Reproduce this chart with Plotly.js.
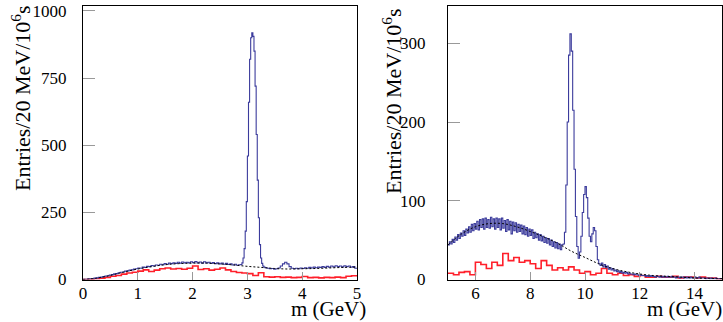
<!DOCTYPE html>
<html>
<head>
<meta charset="utf-8">
<script src="https://cdn.plot.ly/plotly-3.0.1.min.js"></script>
<style>html,body{margin:0;padding:0;background:#fff;}#chart{width:723px;height:322px;}</style>
</head>
<body>
<div id="chart"></div>
<script>
// ---------- DATA ----------
// Left panel, blue histogram: three segments of bins
const LEFT_BLUE_A_START = 0.00, LEFT_BLUE_A_WIDTH = 0.04;
const LEFT_BLUE_A = [1,1,2,3,3,5,6,8,9,11,13,14,17,18,21,22,25,27,28,31,32,35,36,39,40,
  43,42,46,45,49,48,52,50,54,53,57,55,59,57,61,59,62,60,64,61,65,62,64,62,66,
  63,67,62,65,61,66,62,64,60,63,59,62,58,61,57,60,56,58,54,57,53,55];
const LEFT_BLUE_B_START = 2.88, LEFT_BLUE_B_WIDTH = 0.02;
const LEFT_BLUE_B = [56,62,80,115,180,290,460,660,820,900,918,905,850,720,540,370,230,130,80,60,50,46];
const LEFT_BLUE_C_START = 3.32, LEFT_BLUE_C_WIDTH = 0.04;
const LEFT_BLUE_C = [44,42,40,41,38,40,43,50,58,64,58,48,42,40,42,40,43,41,44,42,
  45,43,46,44,46,45,48,45,49,46,50,47,51,48,50,47,51,48,50,46,48,42];
// Left panel, red histogram
const LEFT_RED_START = 0.0, LEFT_RED_WIDTH = 0.1;
const LEFT_RED = [0,1,3,5,8,12,15,20,24,27, 31,36,30,35,40,43,39,41,38,42,
  50,37,40,35,38,43,36,30,26,24, 22,15,25,10,9,10,8,9,7,8, 11,7,8,6,8,7,9,7,12,14];
// Left panel, background fit (dashed)
const LEFT_FIT_X = [0,0.25,0.5,0.75,1,1.25,1.5,1.75,2,2.25,2.5,2.75,3,3.25,3.5,3.75,4,4.25,4.5,4.75,5];
const LEFT_FIT_Y = [0,5,15,28,39,48,55,59,61,61,58,54,49,45,41,39,40,41,43,45,46];

// Right panel, blue histogram
const RIGHT_BLUE_START = 5.0, RIGHT_BLUE_WIDTH = 0.05;
const RIGHT_BLUE = [
  44,48,45,51,47,54,50,57,52,59,55,62,56,64,59,67,60,70,62,71,
  64,74,63,76,66,77,64,78,66,76,65,79,67,77,64,78,66,77,63,78,
  65,75,61,76,63,74,58,73,62,72,60,70,61,69,58,68,57,66,55,64,
  56,63,52,60,53,58,50,57,49,55,47,53,46,52,44,50,42,48,40,47,
  39,45,38,44,45,60,120,200,285,312,290,215,140,80,42,27,35,55,85,108,
  118,104,78,55,48,58,66,62,42,25,20,18,21,16,19,15,17,13,15,12,
  14,11,12,10,11,9,10,8,9,8,9,7,8,7,7,6,7,6,6,5,
  6,5,5,5,4,5,4,4,5,4,4,3,4,4,3,4,3,4,3,3,
  4,3,3,4,3,3,2,3,3,2,3,3,2,3,2,3,2,3,2,2,
  3,2,2,3,2,2,2,2,1,2,2,1,2,1,1,2,1,1,1,1];
// Right panel, red histogram
const RIGHT_RED_START = 5.0, RIGHT_RED_WIDTH = 0.2;
const RIGHT_RED = [8,6,9,10,6,22,19,14,22,18, 33,24,28,22,24,20,14,24,18,12,
  15,12,16,12,8,10,6,8,14,8, 6,8,5,6,4,5,3,3,4,3, 3,4,2,3,3,2,3,2,2,1];
// Right panel, background fit (dashed)
const RIGHT_FIT_X = [5,5.5,6,6.5,7,7.5,8,8.5,9,9.5,10,10.5,11,11.5,12,12.5,13,13.5,14,14.5,15];
const RIGHT_FIT_Y = [44,58,67,71,71,67,61,54,46,36,28,20,14,10,7,5,4,3,2,1.5,1];

// Tick labels
const LEFT_X_TICKS = [0,1,2,3,4,5];
const LEFT_Y_TICKS = [0,250,500,750,1000];
const RIGHT_X_TICKS = [6,8,10,12,14];
const RIGHT_Y_TICKS = [0,100,200,300];

const X_TITLE = 'm (GeV)';
const Y_TITLE = 'Entries/20 MeV/10<sup>6</sup>s';

// ---------- helpers ----------
function histSteps(segments) {
  const xs = [], ys = [];
  let end = 0, last = 0;
  segments.forEach(s => {
    s.values.forEach((v, i) => {
      xs.push(+(s.start + i * s.width).toFixed(5));
      ys.push(v);
    });
    end = +(s.start + s.values.length * s.width).toFixed(5);
    last = s.values[s.values.length - 1];
  });
  xs.push(end); ys.push(last);
  return {x: xs, y: ys};
}

const BLUE = '#3b3b9c', RED = '#ff1f2a';
const lb = histSteps([
  {start: LEFT_BLUE_A_START, width: LEFT_BLUE_A_WIDTH, values: LEFT_BLUE_A},
  {start: LEFT_BLUE_B_START, width: LEFT_BLUE_B_WIDTH, values: LEFT_BLUE_B},
  {start: LEFT_BLUE_C_START, width: LEFT_BLUE_C_WIDTH, values: LEFT_BLUE_C}]);
const lr = histSteps([{start: LEFT_RED_START, width: LEFT_RED_WIDTH, values: LEFT_RED}]);
const rb = histSteps([{start: RIGHT_BLUE_START, width: RIGHT_BLUE_WIDTH, values: RIGHT_BLUE}]);
const rr = histSteps([{start: RIGHT_RED_START, width: RIGHT_RED_WIDTH, values: RIGHT_RED}]);

const traces = [
  {x: lr.x, y: lr.y, xaxis: 'x', yaxis: 'y', mode: 'lines', line: {shape: 'hv', color: RED, width: 1.6}},
  {x: lb.x, y: lb.y, xaxis: 'x', yaxis: 'y', mode: 'lines', line: {shape: 'hv', color: BLUE, width: 1.1}},
  {x: LEFT_FIT_X, y: LEFT_FIT_Y, xaxis: 'x', yaxis: 'y', mode: 'lines', line: {shape: 'spline', color: '#000', width: 1, dash: '2px,2px'}},
  {x: rr.x, y: rr.y, xaxis: 'x2', yaxis: 'y2', mode: 'lines', line: {shape: 'hv', color: RED, width: 1.6}},
  {x: rb.x, y: rb.y, xaxis: 'x2', yaxis: 'y2', mode: 'lines', line: {shape: 'hv', color: BLUE, width: 1.1}},
  {x: RIGHT_FIT_X, y: RIGHT_FIT_Y, xaxis: 'x2', yaxis: 'y2', mode: 'lines', line: {shape: 'spline', color: '#000', width: 1, dash: '2px,2px'}}
];

const FONT = '"Liberation Serif", "Times New Roman", "DejaVu Serif", serif';
const W = 723, H = 322;
const yDom = [42.5 / H, 316.5 / H];
const axBase = {
  showline: true, mirror: true, linecolor: '#000', linewidth: 1,
  showgrid: false, zeroline: false, ticks: 'inside', tickcolor: '#999', tickwidth: 1,
  tickfont: {family: FONT, size: 17, color: '#000'}, fixedrange: true
};

const layout = {
  width: W, height: H, margin: {l: 0, r: 0, t: 0, b: 0},
  paper_bgcolor: '#fff', plot_bgcolor: '#fff', showlegend: false,
  font: {family: FONT, size: 17, color: '#000'},
  xaxis: Object.assign({}, axBase, {domain: [83 / W, 357 / W], range: [0, 5], tickvals: LEFT_X_TICKS, ticktext: LEFT_X_TICKS.map(String), ticklen: 8, anchor: 'y', ticklabelstandoff: -2}),
  yaxis: Object.assign({}, axBase, {domain: yDom, range: [0, 1020], tickvals: LEFT_Y_TICKS, ticktext: LEFT_Y_TICKS.map(String), ticklen: 12, anchor: 'x', ticklabelstandoff: 12}),
  xaxis2: Object.assign({}, axBase, {domain: [448 / W, 722 / W], range: [5, 15], tickvals: RIGHT_X_TICKS, ticktext: RIGHT_X_TICKS.map(String), ticklen: 8, anchor: 'y2', ticklabelstandoff: -2}),
  yaxis2: Object.assign({}, axBase, {domain: yDom, range: [0, 348], tickvals: RIGHT_Y_TICKS, ticktext: RIGHT_Y_TICKS.map(String), ticklen: 12, anchor: 'x2', ticklabelstandoff: 18}),
  annotations: [
    {xref: 'paper', yref: 'paper', x: 21 / W, y: (H - 98) / H, xanchor: 'center', yanchor: 'middle', textangle: -90, showarrow: false, text: Y_TITLE, font: {family: FONT, size: 22, color: '#000'}},
    {xref: 'paper', yref: 'paper', x: 392 / W, y: (H - 101) / H, xanchor: 'center', yanchor: 'middle', textangle: -90, showarrow: false, text: Y_TITLE, font: {family: FONT, size: 22, color: '#000'}},
    {xref: 'paper', yref: 'paper', x: 367 / W, y: 0, xanchor: 'right', yanchor: 'bottom', showarrow: false, text: X_TITLE, borderpad: 0, font: {family: FONT, size: 21, color: '#000'}},
    {xref: 'paper', yref: 'paper', x: 723 / W, y: 0, xanchor: 'right', yanchor: 'bottom', showarrow: false, text: X_TITLE, borderpad: 0, font: {family: FONT, size: 21, color: '#000'}}
  ]
};

Plotly.newPlot('chart', traces, layout, {displayModeBar: false, staticPlot: true});
</script>
</body>
</html>
